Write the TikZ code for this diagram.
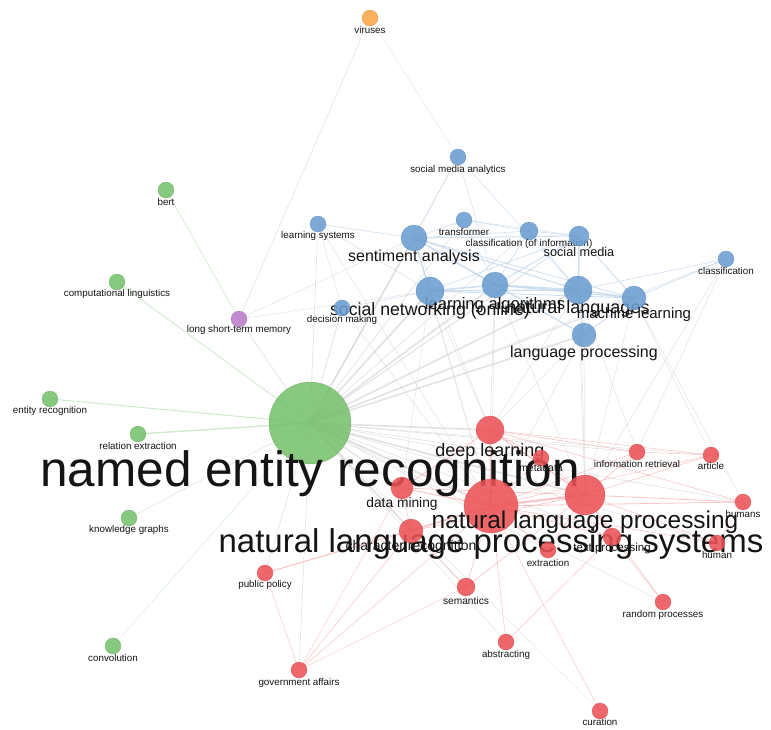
\documentclass[tikz,border=0pt]{standalone}
\usepackage{fontspec}
\setmainfont{Liberation Sans}
\definecolor{grn}{RGB}{118,193,108}
\definecolor{blu}{RGB}{106,157,208}
\definecolor{rd}{RGB}{236,82,86}
\definecolor{prp}{RGB}{186,126,204}
\definecolor{org}{RGB}{250,166,72}
\definecolor{txt}{RGB}{20,20,20}
\tikzset{
  bub/.style={circle, inner sep=0pt, draw=#1!85!black, line width=0.4pt, fill=#1, fill opacity=0.88, draw opacity=0.6},
  lab/.style={inner sep=0pt, text=txt},
  ge/.style={draw=black!20, line width=#1, opacity=0.55},
  be/.style={draw=blu!45, line width=#1, opacity=0.7},
  re/.style={draw=rd!45, line width=#1, opacity=0.75},
  gre/.style={draw=grn!45, line width=#1, opacity=0.75},
}
\newcommand\kw[8]{%
  \node[bub=#5, minimum size=#4*2pt] (#1) at (#2,#3) {};
  \node[lab, font=\fontsize{#6}{#6}\selectfont] (#1-l) at (#2,#8) {#7};}
\begin{document}
\begin{tikzpicture}[x=1pt,y=-1pt]
\useasboundingbox (0,0) rectangle (771,729);
\path
 (310,423) coordinate (ner) (166,190) coordinate (bert) (117,282) coordinate (cling)
 (50,399) coordinate (er) (138,434) coordinate (rex) (129,518) coordinate (kg)
 (113,646) coordinate (conv) (239,319) coordinate (lstm) (370,18) coordinate (vir)
 (458,157) coordinate (sma) (318,224) coordinate (ls) (464,220) coordinate (tr)
 (529,231) coordinate (coi) (579,236) coordinate (sm) (414,238) coordinate (sa)
 (726,259) coordinate (cl) (495,285) coordinate (la) (430,291) coordinate (sn)
 (578,290) coordinate (nl) (634,298) coordinate (ml) (342,308) coordinate (dmk)
 (584,335) coordinate (lp) (490,430) coordinate (dl) (541,458) coordinate (md)
 (637,452) coordinate (ir) (711,455) coordinate (art) (402,488) coordinate (dmin)
 (491,506) coordinate (nlps) (585,495) coordinate (nlp) (411,531) coordinate (cr)
 (743,502) coordinate (hums) (717,543) coordinate (hum) (612,537) coordinate (tp)
 (548,550) coordinate (ext) (265,573) coordinate (pp) (466,587) coordinate (sem)
 (663,602) coordinate (rp) (506,642) coordinate (abs) (299,670) coordinate (ga)
 (600,711) coordinate (cur);
% ---- grey edges from named entity recognition ----
\foreach \t/\w in {sa/1.6,sn/1.8,la/1.6,nl/1.6,ml/1.2,lp/1.6,dmk/0.8,ls/0.6,tr/0.7,coi/0.7,sm/1.0,sma/0.5,cl/0.5,
  dl/1.6,dmin/1.3,nlps/2.2,nlp/1.8,cr/1.2,ir/0.7,art/0.5,hums/0.6,hum/0.6,tp/0.7,ext/0.7,sem/0.8,pp/0.6,ga/0.6,abs/0.5,rp/0.5,md/0.7,cur/0.4}
  \draw[ge=\w] (ner) -- (\t);
\draw[ge=0.6] (vir) -- (lstm);
\draw[ge=0.4] (vir) -- (sma);
\draw[ge=0.8] (lstm) -- (ner);
\draw[ge=0.5] (lstm) -- (sa);
\draw[ge=0.5] (lstm) -- (sn);
\draw[gre=0.7] (bert) -- (lstm);
\foreach \t/\w in {cling/0.9,er/1.0,rex/1.4,kg/0.5,conv/0.4}
  \draw[gre=\w] (ner) -- (\t);
% ---- grey edges between clusters ----
\foreach \a/\b in {lp/nlp,lp/nlps,nl/nlp,ml/nlp,sa/nlps,sn/dl,la/dl,nl/dl,sa/dl,ml/hums,cl/nlp,la/nlps,sn/nlps,
  ml/art,nl/ir,lp/dl,sn/dmin,la/nlp,sm/nlp,dmk/nlps,ls/nlps,cl/ir}
  \draw[ge=0.5] (\a) -- (\b);
% ---- blue edges ----
\foreach \a/\b/\w in {sma/sa/0.5,sma/la/0.5,sma/nl/0.5,ls/sa/0.6,ls/sn/0.5,ls/dmk/0.4,tr/sa/0.6,tr/coi/0.6,tr/sm/0.5,
  coi/sm/0.6,coi/sa/0.6,sa/sn/1.4,sa/la/1.4,sa/nl/1.2,sa/ml/0.8,sa/sm/1.0,sn/la/1.6,sn/nl/1.4,sn/ml/0.9,la/nl/1.8,
  la/ml/1.2,la/lp/1.0,nl/ml/1.6,nl/lp/1.2,ml/lp/1.0,sm/nl/1.2,sm/ml/1.0,sm/la/1.0,cl/ml/0.8,cl/nl/0.6,sn/dmk/0.6,
  coi/nl/0.7,coi/la/0.7,tr/la/0.5,sm/sn/0.7,sa/lp/0.6}
  \draw[be=\w] (\a) -- (\b);
% ---- red edges ----
\foreach \a/\b/\w in {dl/nlp/1.2,dl/nlps/1.4,dl/dmin/0.8,dl/hums/0.6,dl/ir/0.6,dl/art/0.5,dl/md/0.6,md/nlps/0.6,
  ir/nlp/0.7,ir/nlps/0.6,art/nlp/0.6,art/ir/0.5,art/nlps/0.5,hums/nlp/0.8,hums/nlps/0.8,hum/nlp/0.6,hum/nlps/0.6,
  nlp/nlps/2.0,dmin/nlps/1.0,dmin/nlp/0.7,cr/nlps/1.0,cr/nlp/0.7,tp/nlps/0.7,tp/nlp/0.7,ext/nlps/0.7,ext/nlp/0.6,
  sem/nlps/0.7,sem/nlp/0.6,sem/cr/0.5,abs/nlps/0.5,abs/tp/0.5,rp/nlp/0.5,rp/tp/0.5,cur/nlps/0.5,pp/cr/0.6,pp/nlps/0.6,
  pp/ga/0.5,ga/cr/0.5,ga/dmin/0.4,ga/nlps/0.5,ga/sem/0.4,hums/hum/0.4,md/nlp/0.5,dmin/cr/0.5}
  \draw[re=\w] (\a) -- (\b);
% ---- bubbles and labels ----
\kw{nerN}{310}{423}{41}{grn}{49.5}{named entity recognition}{474}
\kw{bertN}{166}{190}{8}{grn}{9.8}{bert}{202}
\kw{clingN}{117}{282}{8}{grn}{9.8}{computational linguistics}{294}
\kw{erN}{50}{399}{8}{grn}{9.8}{entity recognition}{411}
\kw{rexN}{138}{434}{8}{grn}{9.8}{relation extraction}{446}
\kw{kgN}{129}{518}{8}{grn}{9.8}{knowledge graphs}{530}
\kw{convN}{113}{646}{8}{grn}{9.8}{convolution}{658}
\kw{lstmN}{239}{319}{8}{prp}{9.8}{long short-term memory}{330}
\kw{virN}{370}{18}{8}{org}{9.8}{viruses}{30}
\kw{smaN}{458}{157}{8}{blu}{9.8}{social media analytics}{170}
\kw{lsN}{318}{224}{8}{blu}{9.8}{learning systems}{236}
\kw{trN}{464}{220}{8}{blu}{9.8}{transformer}{232}
\kw{coiN}{529}{231}{9}{blu}{10}{classification (of information)}{244}
\kw{smN}{579}{236}{10}{blu}{12.7}{social media}{252}
\kw{saN}{414}{238}{13}{blu}{16}{sentiment analysis}{257}
\kw{clN}{726}{259}{8}{blu}{9.8}{classification}{271}
\kw{laN}{495}{285}{13}{blu}{16.6}{learning algorithms}{305}
\kw{snN}{430}{291}{14}{blu}{17.7}{social networking (online)}{311}
\kw{nlN}{578}{290}{14}{blu}{18}{natural languages}{309}
\kw{mlN}{634}{298}{12}{blu}{15}{machine learning}{315}
\kw{dmkN}{342}{308}{8}{blu}{9.8}{decision making}{320}
\kw{lpN}{584}{335}{12}{blu}{16}{language processing}{353}
\kw{dlN}{490}{430}{14}{rd}{18}{deep learning}{452}
\kw{mdN}{541}{458}{8}{rd}{10.4}{metadata}{468}
\kw{irN}{637}{452}{8}{rd}{9.8}{information retrieval}{464}
\kw{artN}{711}{455}{8}{rd}{9.8}{article}{466}
\kw{dminN}{402}{488}{11}{rd}{13.8}{data mining}{504}
\kw{nlpsN}{491}{506}{27}{rd}{33}{natural language processing systems}{544}
\kw{nlpN}{585}{495}{20}{rd}{24.4}{natural language processing}{522}
\kw{crN}{411}{531}{12}{rd}{14}{character recognition}{547}
\kw{humsN}{743}{502}{8}{rd}{9.8}{humans}{514}
\kw{humN}{717}{543}{8}{rd}{9.8}{human}{555}
\kw{tpN}{612}{537}{9}{rd}{11.5}{text processing}{549}
\kw{extN}{548}{550}{8}{rd}{9.8}{extraction}{563}
\kw{ppN}{265}{573}{8}{rd}{9.8}{public policy}{585}
\kw{semN}{466}{587}{9}{rd}{10.2}{semantics}{601}
\kw{rpN}{663}{602}{8}{rd}{9.8}{random processes}{615}
\kw{absN}{506}{642}{8}{rd}{9.8}{abstracting}{655}
\kw{gaN}{299}{670}{8}{rd}{9.8}{government affairs}{683}
\kw{curN}{600}{711}{8}{rd}{9.8}{curation}{722}
\end{tikzpicture}
\end{document}
